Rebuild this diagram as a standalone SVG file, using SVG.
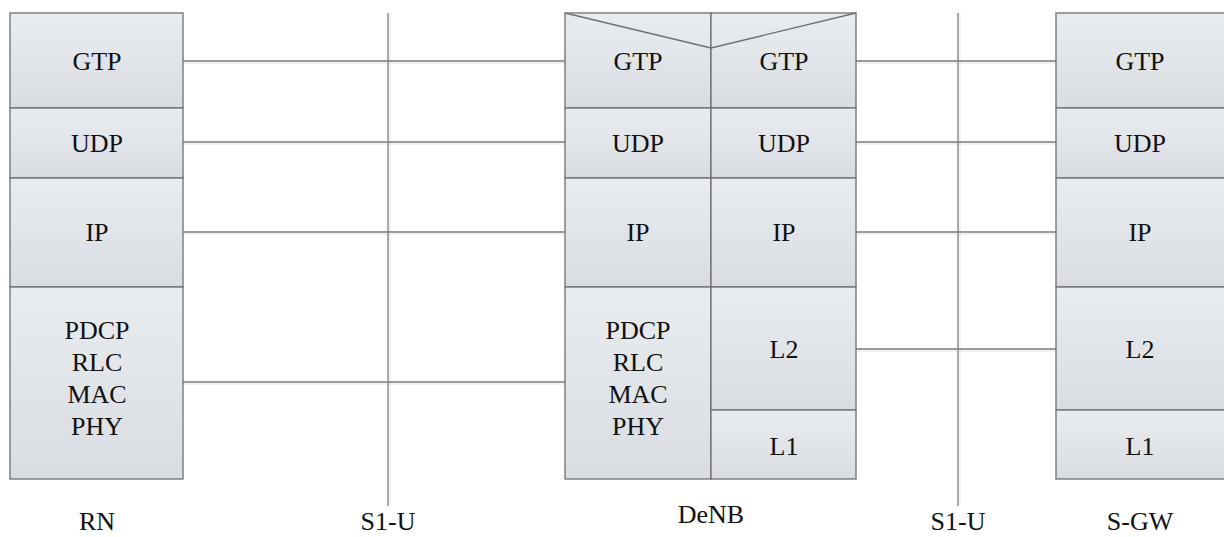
<svg xmlns="http://www.w3.org/2000/svg" width="1224" height="537" viewBox="0 0 1224 537">
  <defs>
    <linearGradient id="cellFill" x1="0" y1="0" x2="0" y2="1">
      <stop offset="0" stop-color="#e9ecef"/>
      <stop offset="1" stop-color="#d9dde2"/>
    </linearGradient>
    <style>
      .cell { fill: url(#cellFill); stroke: #6f6f6f; stroke-width: 1.3; }
      .edge { fill: none; stroke: #6f6f6f; stroke-width: 1.3; }
      .link { stroke: #7a7a7a; stroke-width: 1.3; }
      .glow { stroke: #e4e4e4; stroke-width: 1; }
      text { font-family: "Liberation Serif", "Times New Roman", Times, serif; }
      .t { font-size: 26px; fill: #111; text-anchor: middle; }
    </style>
  </defs>
  <rect width="1224" height="537" fill="#ffffff"/>

  <!-- interface lines -->
  <g id="connectors">
    <line class="glow" x1="184" y1="63" x2="565" y2="63"/>
    <line class="glow" x1="184" y1="144" x2="565" y2="144"/>
    <line class="glow" x1="184" y1="234" x2="565" y2="234"/>
    <line class="glow" x1="184" y1="384" x2="565" y2="384"/>
    <line class="glow" x1="857" y1="63" x2="1056" y2="63"/>
    <line class="glow" x1="857" y1="144" x2="1056" y2="144"/>
    <line class="glow" x1="857" y1="234" x2="1056" y2="234"/>
    <line class="glow" x1="857" y1="351" x2="1056" y2="351"/>
    <line class="glow" x1="390" y1="13" x2="390" y2="505"/>
    <line class="glow" x1="960" y1="13" x2="960" y2="505"/>

    <line class="link" x1="183" y1="61" x2="565" y2="61"/>
    <line class="link" x1="183" y1="142" x2="565" y2="142"/>
    <line class="link" x1="183" y1="232" x2="565" y2="232"/>
    <line class="link" x1="183" y1="382" x2="565" y2="382"/>
    <line class="link" x1="856" y1="61" x2="1056" y2="61"/>
    <line class="link" x1="856" y1="142" x2="1056" y2="142"/>
    <line class="link" x1="856" y1="232" x2="1056" y2="232"/>
    <line class="link" x1="856" y1="349" x2="1056" y2="349"/>
    <line class="link" x1="388" y1="13" x2="388" y2="506"/>
    <line class="link" x1="958" y1="13" x2="958" y2="506"/>
  </g>

  <!-- RN stack -->
  <g id="rn">
    <rect class="cell" x="10" y="13" width="173" height="95"/>
    <rect class="cell" x="10" y="108" width="173" height="70"/>
    <rect class="cell" x="10" y="178" width="173" height="109"/>
    <rect class="cell" x="10" y="287" width="173" height="192"/>
    <text class="t" x="97" y="70">GTP</text>
    <text class="t" x="97" y="152">UDP</text>
    <text class="t" x="97" y="241">IP</text>
    <text class="t" x="97" y="339">PDCP</text>
    <text class="t" x="97" y="371">RLC</text>
    <text class="t" x="97" y="403">MAC</text>
    <text class="t" x="97" y="435">PHY</text>
  </g>

  <!-- DeNB stack -->
  <g id="denb">
    <rect class="cell" x="565" y="13" width="146" height="95"/>
    <rect class="cell" x="711" y="13" width="145" height="95"/>
    <rect class="cell" x="565" y="108" width="146" height="70"/>
    <rect class="cell" x="711" y="108" width="145" height="70"/>
    <rect class="cell" x="565" y="178" width="146" height="109"/>
    <rect class="cell" x="711" y="178" width="145" height="109"/>
    <rect class="cell" x="565" y="287" width="146" height="192"/>
    <rect class="cell" x="711" y="287" width="145" height="123"/>
    <rect class="cell" x="711" y="410" width="145" height="69"/>
    <polyline class="edge" points="565,13 711,48 856,13"/>
    <text class="t" x="638" y="70">GTP</text>
    <text class="t" x="784" y="70">GTP</text>
    <text class="t" x="638" y="152">UDP</text>
    <text class="t" x="784" y="152">UDP</text>
    <text class="t" x="638" y="241">IP</text>
    <text class="t" x="784" y="241">IP</text>
    <text class="t" x="638" y="339">PDCP</text>
    <text class="t" x="638" y="371">RLC</text>
    <text class="t" x="638" y="403">MAC</text>
    <text class="t" x="638" y="435">PHY</text>
    <text class="t" x="784" y="358">L2</text>
    <text class="t" x="784" y="455">L1</text>
  </g>

  <!-- S-GW stack -->
  <g id="sgw">
    <rect class="cell" x="1056" y="13" width="180" height="95"/>
    <rect class="cell" x="1056" y="108" width="180" height="70"/>
    <rect class="cell" x="1056" y="178" width="180" height="109"/>
    <rect class="cell" x="1056" y="287" width="180" height="123"/>
    <rect class="cell" x="1056" y="410" width="180" height="69"/>
    <text class="t" x="1140" y="70">GTP</text>
    <text class="t" x="1140" y="152">UDP</text>
    <text class="t" x="1140" y="241">IP</text>
    <text class="t" x="1140" y="358">L2</text>
    <text class="t" x="1140" y="455">L1</text>
  </g>

  <!-- entity and interface names -->
  <g id="labels">
    <text class="t" x="97" y="530">RN</text>
    <text class="t" x="388" y="530">S1-U</text>
    <text class="t" x="711" y="523">DeNB</text>
    <text class="t" x="958" y="530">S1-U</text>
    <text class="t" x="1140" y="530">S-GW</text>
  </g>
</svg>
